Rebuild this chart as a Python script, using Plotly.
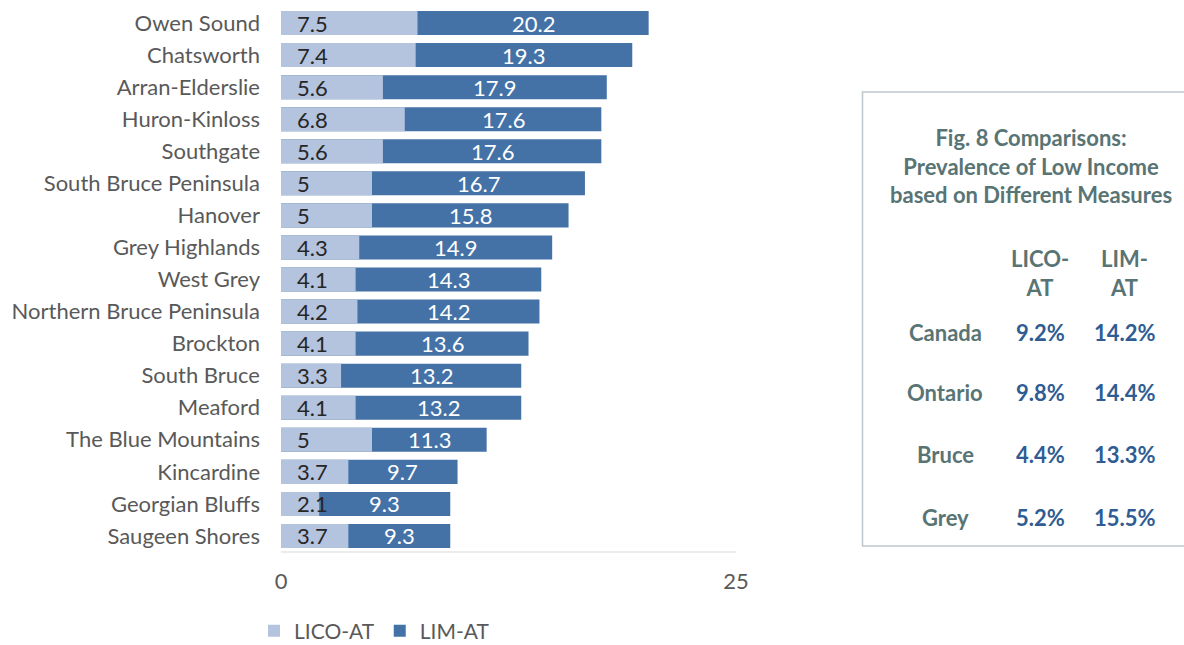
import plotly.graph_objects as go

# Municipalities, top to bottom
places = ["Owen Sound", "Chatsworth", "Arran-Elderslie", "Huron-Kinloss", "Southgate",
          "South Bruce Peninsula", "Hanover", "Grey Highlands", "West Grey",
          "Northern Bruce Peninsula", "Brockton", "South Bruce", "Meaford",
          "The Blue Mountains", "Kincardine", "Georgian Bluffs", "Saugeen Shores"]
lico_at = [7.5, 7.4, 5.6, 6.8, 5.6, 5, 5, 4.3, 4.1, 4.2, 4.1, 3.3, 4.1, 5, 3.7, 2.1, 3.7]
lim_at = [20.2, 19.3, 17.9, 17.6, 17.6, 16.7, 15.8, 14.9, 14.3, 14.2, 13.6, 13.2, 13.2,
          11.3, 9.7, 9.3, 9.3]

# Comparison table
cmp_regions = ["Canada", "Ontario", "Bruce", "Grey"]
cmp_lico = ["9.2%", "9.8%", "4.4%", "5.2%"]
cmp_lim = ["14.2%", "14.4%", "13.3%", "15.5%"]
cmp_title = "Fig. 8 Comparisons:<br>Prevalence of Low Income<br>based on Different Measures"

LIGHT = "#B4C3DE"
DARK = "#4472A7"
FONT = "Lato"
W, H = 1184, 645
ML, MR, MT, MB = 281, 448, 7, 93

fig = go.Figure()
fig.add_trace(go.Bar(y=places, x=lim_at, orientation="h", name="LIM-AT",
                     marker=dict(color=DARK, line=dict(width=0))))
fig.add_trace(go.Bar(y=places, x=lico_at, orientation="h", name="LICO-AT",
                     marker=dict(color=LIGHT, line=dict(width=0))))

ann = []
for p, a, b in zip(places, lico_at, lim_at):
    ann.append(dict(x=0, y=p, xref="x", yref="y", text=f"{a:g}", showarrow=False,
                    xanchor="left", xshift=14, font=dict(family=FONT, size=22, color="#262626")))
    ann.append(dict(x=(a + b) / 2, y=p, xref="x", yref="y", text=f"{b:g}", showarrow=False,
                    xanchor="center", font=dict(family=FONT, size=22, color="white")))

# Side panel, placed in pixel terms relative to the plot area
PW = W - ML - MR
PH = H - MT - MB


def px(xp):
    return (xp - ML) / PW


def py(yp):
    return (H - MB - yp) / PH


TEAL = "#587474"
BLUE = "#2F5C93"
TS = 22
ann.append(dict(x=px(1031), y=py(166), xref="paper", yref="paper", text="<b>" + cmp_title + "</b>",
                showarrow=False, xanchor="center", yanchor="middle", align="center",
                font=dict(family=FONT, size=TS, color=TEAL)))
ann.append(dict(x=px(1040), y=py(273), xref="paper", yref="paper", text="<b>LICO-<br>AT</b>",
                showarrow=False, xanchor="center", yanchor="middle", align="center",
                font=dict(family=FONT, size=TS, color=TEAL)))
ann.append(dict(x=px(1124), y=py(273), xref="paper", yref="paper", text="<b>LIM-<br>AT</b>",
                showarrow=False, xanchor="center", yanchor="middle", align="center",
                font=dict(family=FONT, size=TS, color=TEAL)))
row_y = [333, 393, 454, 517]
for r, a, b, yy in zip(cmp_regions, cmp_lico, cmp_lim, row_y):
    ann.append(dict(x=px(945), y=py(yy), xref="paper", yref="paper", text=f"<b>{r}</b>",
                    showarrow=False, xanchor="center", yanchor="middle",
                    font=dict(family=FONT, size=TS, color=TEAL)))
    ann.append(dict(x=px(1040), y=py(yy), xref="paper", yref="paper", text=f"<b>{a}</b>",
                    showarrow=False, xanchor="center", yanchor="middle",
                    font=dict(family=FONT, size=TS, color=BLUE)))
    ann.append(dict(x=px(1125), y=py(yy), xref="paper", yref="paper", text=f"<b>{b}</b>",
                    showarrow=False, xanchor="center", yanchor="middle",
                    font=dict(family=FONT, size=TS, color=BLUE)))

shapes = [dict(type="rect", xref="paper", yref="paper", x0=px(862.5), x1=px(1195),
               y0=py(546), y1=py(92), line=dict(color="#BCC8CC", width=1.5),
               fillcolor="rgba(0,0,0,0)")]

fig.update_layout(
    width=W, height=H, margin=dict(l=ML, r=MR, t=MT, b=MB, autoexpand=False),
    paper_bgcolor="white", plot_bgcolor="white",
    barmode="overlay", bargap=0.25,
    font=dict(family=FONT, size=22, color="#595959"),
    showlegend=True,
    legend=dict(orientation="h", x=px(254), y=py(631), xanchor="left", yanchor="middle",
                traceorder="reversed", font=dict(family=FONT, size=21, color="#595959"),
                itemwidth=30, tracegroupgap=0),
    annotations=ann, shapes=shapes,
)
fig.update_xaxes(range=[0, 25], tickvals=[0, 25], showgrid=False, zeroline=False,
                 showline=False, ticks="", ticklabelstandoff=14,
                 tickfont=dict(family=FONT, size=22, color="#595959"), fixedrange=True)
fig.update_yaxes(autorange="reversed", showgrid=False, zeroline=False, showline=False,
                 ticks="", ticklabelstandoff=20,
                 tickfont=dict(family=FONT, size=22, color="#595959"), fixedrange=True)
# baseline under the bars
fig.add_shape(type="line", xref="paper", yref="paper", x0=0, x1=1, y0=0, y1=0,
              line=dict(color="#D9D9D9", width=1))

fig.write_html("out.html")
